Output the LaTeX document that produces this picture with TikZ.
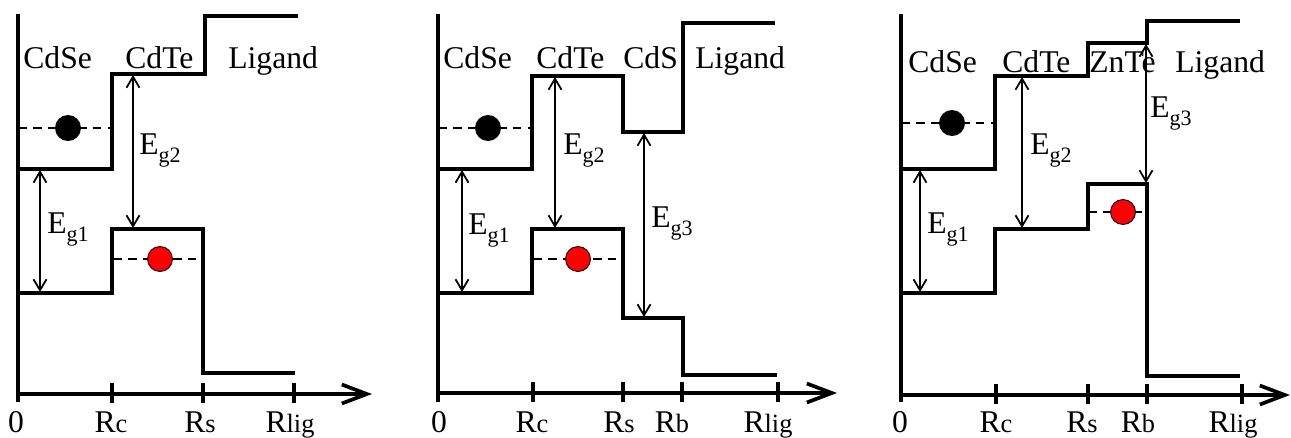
\documentclass[tikz,border=0pt]{standalone}
\usepackage{fontspec}
\setmainfont{Liberation Serif}
\usetikzlibrary{arrows.meta}
\tikzset{
  band/.style={line width=2.2pt, line join=miter},
  axisarr/.style={line width=2.1pt, -{Straight Barb[length=5mm,width=3.8mm]}},
  tickmark/.style={line width=1.8pt},
  gap/.style={line width=1pt, {Straight Barb[length=2.2mm,width=2.6mm]}-{Straight Barb[length=2.2mm,width=2.6mm]}},
  level/.style={line width=0.6pt, dash pattern=on 5pt off 3.5pt},
  lbl/.style={font=\fontsize{18}{20}\selectfont, inner sep=0pt, anchor=base west},
  rlbl/.style={font=\fontsize{18}{20}\selectfont, inner sep=0pt, anchor=base},
  elec/.style={circle, fill=black, minimum size=5.2mm, inner sep=0pt},
  hole/.style={circle, draw=black, line width=0.5pt, fill=red, minimum size=5mm, inner sep=0pt},
}
\newcommand{\Rsub}[1]{R{\fontsize{15}{15}\selectfont #1}}
\newcommand{\Egap}[1]{E\raisebox{-5pt}{\fontsize{12.5}{13}\selectfont g#1}}

\begin{document}
\begin{tikzpicture}[x=0.02cm,y=-0.02cm]
\useasboundingbox (0,0) rectangle (1291,437);
% #1 origin x, #2 axis y, #3 arrow end, #4 ticks
\newcommand{\frameax}[4]{\draw[band] (#1,14) -- (#1,402); \draw[axisarr] (#1,#2) -- (#3,#2); \foreach \t in {#4} \draw[tickmark] (\t,#2-11) -- (\t,#2+9);}
% panel 1: CdSe/CdTe
\frameax{18}{394}{372}{112,203,294}
\draw[band] (18,169) -- (112,169) -- (112,74) -- (205,74) -- (205,16) -- (298,16);
\draw[band] (18,293) -- (112,293) -- (112,229) -- (203,229) -- (203,373) -- (295,373);
\draw[level] (18,128) -- (111,128);
\draw[level] (113,259) -- (203,259);
\node[elec] (el1) at (68,128) {};
\node[hole] (ho1) at (160,259) {};
\draw[gap] (40,170) -- (40,292);
\draw[gap] (133,75) -- (133,228);
\node[lbl] (eg11) at (47,233) {\Egap{1}};
\node[lbl] (eg12) at (139,154) {\Egap{2}};
\node[lbl] (cdse1) at (23,68) {CdSe};
\node[lbl] (cdte1) at (125,68) {CdTe};
\node[lbl] (lig1) at (228,68) {Ligand};
\node[rlbl] (o1) at (16,432) {0};
\node[rlbl] (rc1) at (111,432) {\Rsub{c}};
\node[rlbl] (rs1) at (200,432) {\Rsub{s}};
\node[rlbl] (rl1) at (290,432) {\Rsub{lig}};
% panel 2: CdSe/CdTe/CdS
\frameax{438}{393}{837}{533,623,682,778}
\draw[band] (438,169) -- (532,169) -- (532,76) -- (623,76) -- (623,132) -- (683,132) -- (683,23) -- (775,23);
\draw[band] (438,293) -- (532,293) -- (532,229) -- (623,229) -- (623,318) -- (683,318) -- (683,375) -- (777,375);
\draw[level] (438,128) -- (531,128);
\draw[level] (533,259) -- (623,259);
\node[elec] (el2) at (488,128) {};
\node[hole] (ho2) at (578,259) {};
\draw[gap] (462,170) -- (462,292);
\draw[gap] (555,77) -- (555,228);
\draw[gap] (644,133) -- (644,317);
\node[lbl] (eg21) at (468,234) {\Egap{1}};
\node[lbl] (eg22) at (563,154) {\Egap{2}};
\node[lbl] (eg23) at (651,227) {\Egap{3}};
\node[lbl] (cdse2) at (443,68) {CdSe};
\node[lbl] (cdte2) at (536,68) {CdTe};
\node[lbl] (cds2) at (623,68) {CdS};
\node[lbl] (lig2) at (695,68) {Ligand};
\node[rlbl] (o2) at (439,432) {0};
\node[rlbl] (rc2) at (532,432) {\Rsub{c}};
\node[rlbl] (rs2) at (619,432) {\Rsub{s}};
\node[rlbl] (rb2) at (672,432) {\Rsub{b}};
\node[rlbl] (rl2) at (768,432) {\Rsub{lig}};
% panel 3: CdSe/CdTe/ZnTe
\frameax{901}{395}{1290}{996,1088,1147,1242}
\draw[band] (901,169) -- (995,169) -- (995,76) -- (1088,76) -- (1088,43) -- (1147,43) -- (1147,21) -- (1240,21);
\draw[band] (901,293) -- (995,293) -- (995,229) -- (1088,229) -- (1088,184) -- (1147,184) -- (1147,376) -- (1240,376);
\draw[level] (901,123) -- (994,123);
\draw[level] (1088,212) -- (1147,212);
\node[elec] (el3) at (952,123) {};
\node[hole] (ho3) at (1123,212) {};
\draw[gap] (920,170) -- (920,292);
\draw[gap] (1022,77) -- (1022,228);
\draw[gap] (1146,44) -- (1146,183);
\node[lbl] (eg31) at (927,233) {\Egap{1}};
\node[lbl] (eg32) at (1030,154) {\Egap{2}};
\node[lbl] (eg33) at (1150,117) {\Egap{3}};
\node[lbl] (cdse3) at (908,72) {CdSe};
\node[lbl] (cdte3) at (1002,72) {CdTe};
\node[lbl] (znte3) at (1089,72) {ZnTe};
\node[lbl] (lig3) at (1175,72) {Ligand};
\node[rlbl] (o3) at (900,432) {0};
\node[rlbl] (rc3) at (996,432) {\Rsub{c}};
\node[rlbl] (rs3) at (1082,432) {\Rsub{s}};
\node[rlbl] (rb3) at (1138,432) {\Rsub{b}};
\node[rlbl] (rl3) at (1233,432) {\Rsub{lig}};
\end{tikzpicture}
\end{document}
